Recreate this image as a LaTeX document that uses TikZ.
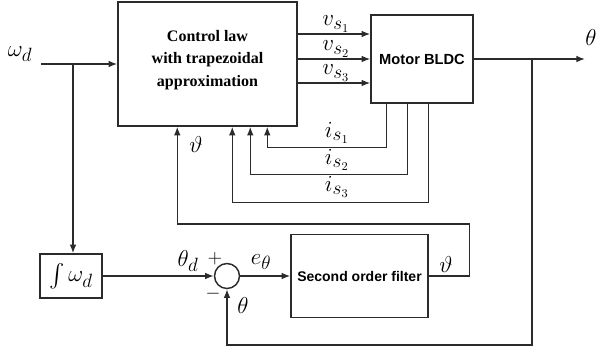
\documentclass[tikz,border=0pt]{standalone}
\usepackage{exscale}
\usepackage[no-math]{fontspec}
\setsansfont{Liberation Sans}
\newfontfamily\timesfont{Liberation Serif}
\usetikzlibrary{arrows.meta,positioning,calc}
\definecolor{wire}{HTML}{2B2B2B}

\begin{document}
\begin{tikzpicture}[x=0.75pt,y=-0.75pt,
  blk/.style={draw=wire,line width=1.1pt,fill=white,inner sep=0pt},
  arr/.style={draw=wire,line width=1pt,-{Latex[length=6.5pt,width=5pt]}},
  lbl/.style={font=\fontsize{19}{22}\selectfont,inner sep=0pt},
  sgn/.style={font=\fontsize{14}{16}\selectfont,inner sep=0pt}]
  \useasboundingbox (0,0) rectangle (597,351);

  % Blocks
  \node[blk,minimum width=134.25pt,minimum height=93pt] (ctrl) at (207.5,64) {};
  \node[font=\timesfont\bfseries\fontsize{12}{17}\selectfont,align=center] (ctrltxt)
    at ([yshift=3pt]ctrl.center) {Control law\\with trapezoidal\\approximation};
  \node[blk,minimum width=76.5pt,minimum height=66pt,
        font=\sffamily\bfseries\fontsize{11}{13}\selectfont] (motor) at (422,59) {Motor BLDC};
  \node[blk,minimum width=102.75pt,minimum height=62.25pt,
        font=\sffamily\bfseries\fontsize{10.5}{13}\selectfont] (filt) at (359.5,276) {Second order filter};
  \node[blk,lbl,minimum width=46.5pt,minimum height=33pt] (integ) at (71,276) {$\int\omega_d$};
  \node[draw=wire,line width=1.1pt,circle,minimum size=18.75pt,inner sep=0pt] (sum) at (227,276) {};

  % Free ends and branch points
  \coordinate (win) at (41,64);
  \coordinate (wbr) at (73,64);
  \coordinate (thout) at (585,59);
  \coordinate (thbr) at (532,59);
  \coordinate (vtc) at ($(ctrl.south west)+(60,0)$);

  % Input and integrator path
  \draw[arr] (win) -- (ctrl.west);
  \draw[arr] (wbr) -- (wbr |- integ.north);
  \draw[arr] (integ.east) -- (sum.west);
  \draw[arr] (sum.east) -- (filt.west);

  % Phase voltages
  \foreach \dy/\n in {-25/1,0/2,24/3} {
    \coordinate (v\n) at ($(motor.west)+(0,\dy)$);
    \draw[arr] (ctrl.east |- v\n) -- (v\n);
  }

  % Phase currents back to the control law
  \foreach \dx/\dy/\cx/\n in {16/44/150/1,37/71/133/2,58/99/115/3} {
    \coordinate (c\n) at ($(ctrl.south west)+(\cx,0)$);
    \draw[arr] ($(motor.south west)+(\dx,0)$) -- ++(0,\dy) -| (c\n);
  }

  % Output and feedbacks
  \draw[arr] (motor.east) -- (thout);
  \draw[arr] (thbr) -- ++(0,286) -| (sum.south);
  \draw[arr] (filt.east) -- ++(41,0) -- ++(0,-52) -| (vtc);

  % Labels
  \node[lbl] (lwd) at (20,54) {$\omega_d$};
  \node[lbl] (lv1) at (336,24) {$v_{s_1}$};
  \node[lbl] (lv2) at (336,49) {$v_{s_2}$};
  \node[lbl] (lv3) at (336,73) {$v_{s_3}$};
  \node[lbl] (lth) at (591,37) {$\theta$};
  \node[lbl] (li1) at (337,133) {$i_{s_1}$};
  \node[lbl] (li2) at (337,160) {$i_{s_2}$};
  \node[lbl] (li3) at (337,187) {$i_{s_3}$};
  \node[lbl] (lvtc) at (196,144) {$\vartheta$};
  \node[lbl] (lvtf) at (446,264) {$\vartheta$};
  \node[lbl] (lthd) at (188,261) {$\theta_d$};
  \node[sgn] (lplus) at (215,259) {$+$};
  \node[sgn] (lminus) at (213,294) {$-$};
  \node[lbl] (lthfb) at (243,305) {$\theta$};
  \node[lbl] (le) at (261,262) {$e_\theta$};
\end{tikzpicture}
\end{document}
